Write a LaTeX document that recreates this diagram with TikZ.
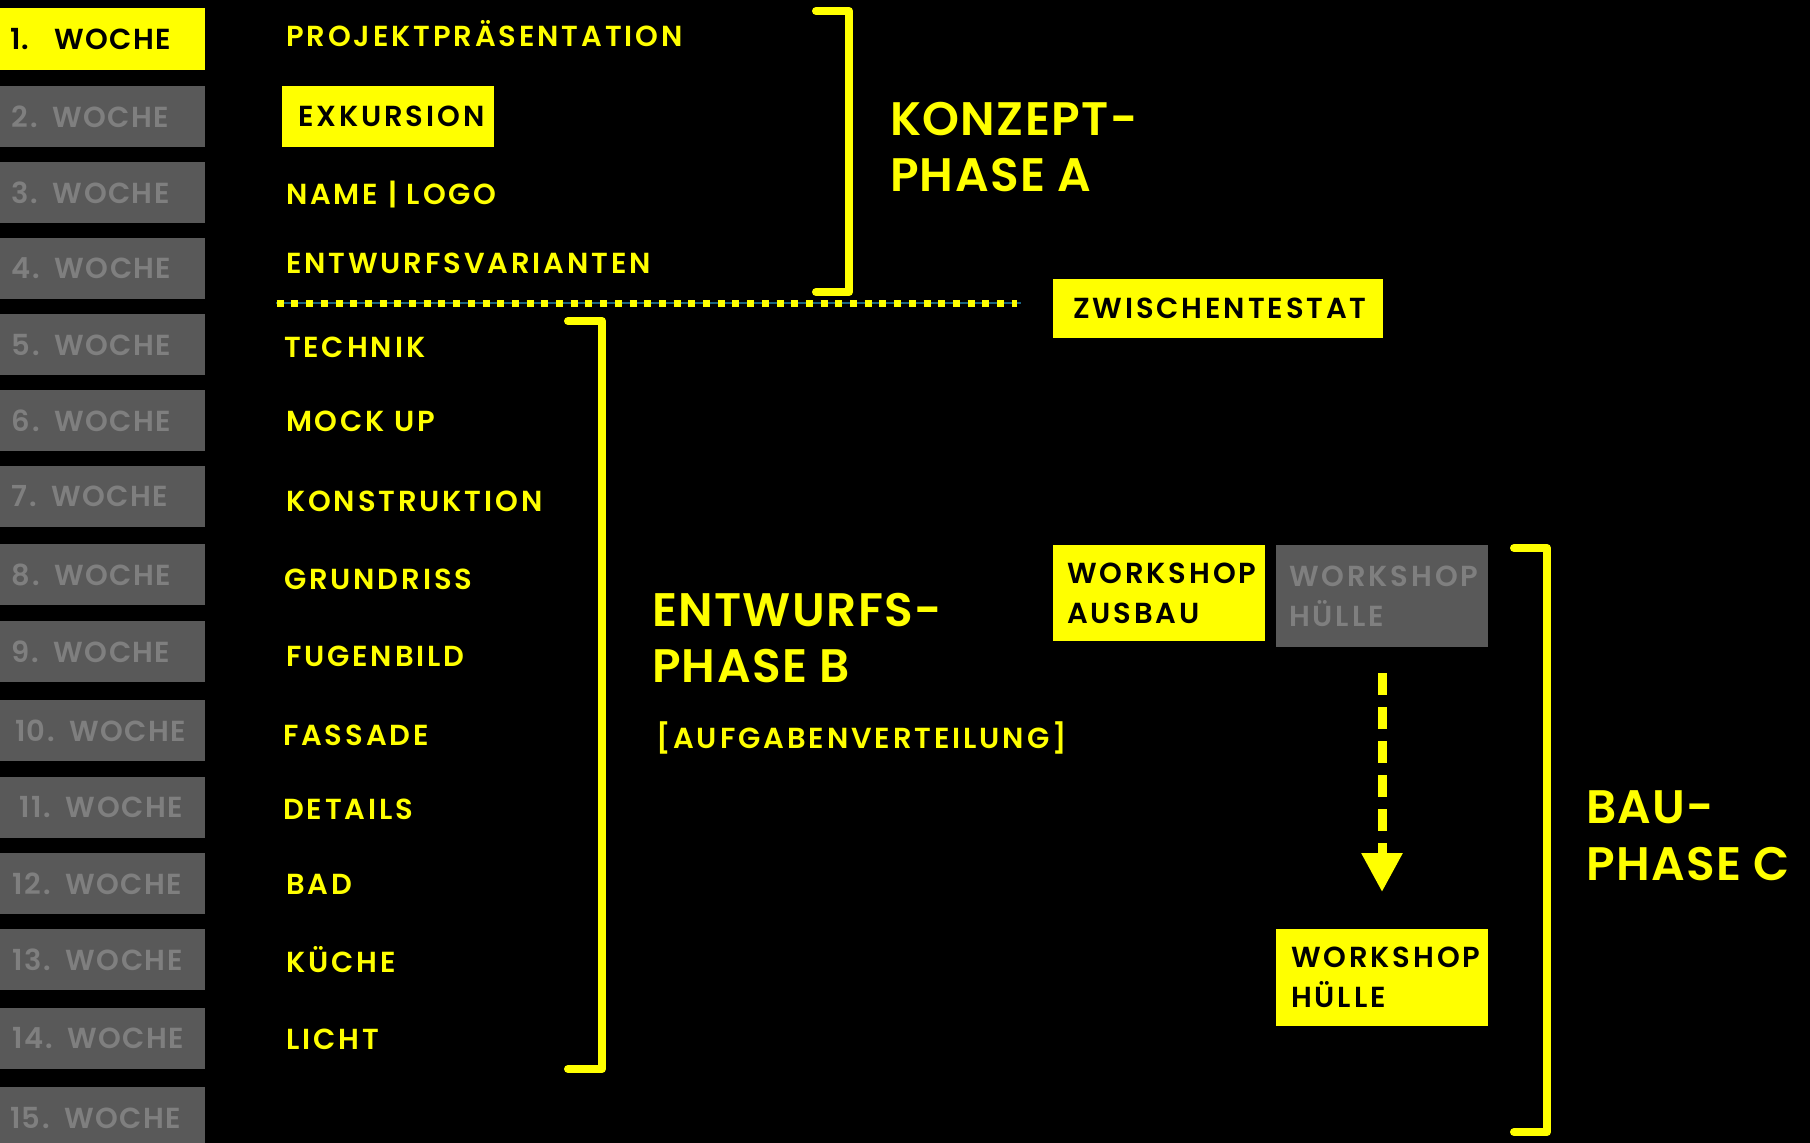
\documentclass[tikz,border=0pt]{standalone}
\usepackage{fontspec}
\IfFontExistsTF{Poppins SemiBold}{%
  \newfontfamily\ftxt{Poppins SemiBold}[LetterSpace=10]%
  \newfontfamily\fbig{Poppins SemiBold}[LetterSpace=3]%
  \newfontfamily\fwk{Poppins SemiBold}[LetterSpace=5]%
}{%
  \newfontfamily\ftxt{Poppins}[LetterSpace=10]%
  \newfontfamily\fbig{Poppins}[LetterSpace=3]%
  \newfontfamily\fwk{Poppins}[LetterSpace=5]%
}
\usetikzlibrary{arrows.meta}
\definecolor{ylw}{HTML}{FFFF00}
\definecolor{wkgray}{HTML}{595959}
\definecolor{wktext}{HTML}{7F7F7F}
\definecolor{sepline}{HTML}{1A6482}
\begin{document}
\begin{tikzpicture}[x=1pt,y=-1pt,
  every node/.style={inner sep=0pt, outer sep=0pt},
  txt/.style={anchor=base west, text=ylw, font=\ftxt\fontsize{29}{34}\selectfont},
  big/.style={anchor=base west, text=ylw, font=\fbig\fontsize{47}{56}\selectfont},
  week/.style={anchor=north west, fill=wkgray, text=wktext, minimum height=61pt,
    text width=205pt, align=left, font=\fwk\fontsize{29}{34}\selectfont},
  weekon/.style={week, fill=ylw, text=black, minimum height=62pt},
  ybox/.style={anchor=north west, fill=ylw, text=black, align=left,
    font=\ftxt\fontsize{29}{40}\selectfont},
  gbox/.style={ybox, fill=wkgray, text=wktext},
  brk/.style={draw=ylw, line width=8pt, line cap=round, line join=round},
  flow/.style={draw=ylw, line width=9pt, dash pattern=on 22pt off 12pt,
    -{Triangle[length=39pt,width=39pt]}}
]
\fill[black] (0,0) rectangle (1810,1143);
\useasboundingbox (0,0) rectangle (1810,1143);
\clip (0,0) rectangle (1810,1143);

% weeks
\node[weekon] (w1) at (0,8) {\hspace*{10pt}1.\hspace{25pt}WOCHE};
\node[week] (w2) at (0,86) {\hspace*{12pt}2. WOCHE};
\node[week] (w3) at (0,162) {\hspace*{12pt}3. WOCHE};
\node[week] (w4) at (0,238) {\hspace*{12pt}4. WOCHE};
\node[week] (w5) at (0,314) {\hspace*{12pt}5. WOCHE};
\node[week] (w6) at (0,390) {\hspace*{12pt}6. WOCHE};
\node[week] (w7) at (0,466) {\hspace*{12pt}7. WOCHE};
\node[week] (w8) at (0,544) {\hspace*{12pt}8. WOCHE};
\node[week] (w9) at (0,621) {\hspace*{12pt}9. WOCHE};
\node[week] (w10) at (0,700) {\hspace*{15pt}10. WOCHE};
\node[week] (w11) at (0,777) {\hspace*{20pt}11. WOCHE};
\node[week] (w12) at (0,853) {\hspace*{13pt}12. WOCHE};
\node[week] (w13) at (0,929) {\hspace*{13pt}13. WOCHE};
\node[week] (w14) at (0,1008) {\hspace*{13pt}14. WOCHE};
\node[week] (w15) at (0,1087) {\hspace*{10pt}15. WOCHE};

% tasks
\node[txt] (t1) at (286,46) {PROJEKTPRÄSENTATION};
\node[ybox, minimum width=212pt, minimum height=61pt, text width=180pt, inner xsep=16pt] (t2) at (282,86) {EXKURSION};
\node[txt] (t3) at (286,204) {NAME | LOGO};
\node[txt] (t4) at (286,273) {ENTWURFSVARIANTEN};
\node[txt] (t5) at (284,357) {TECHNIK};
\node[txt] (t6) at (286,431) {MOCK UP};
\node[txt] (t7) at (286,511) {KONSTRUKTION};
\node[txt] (t8) at (284,589) {GRUNDRISS};
\node[txt] (t9) at (286,666) {FUGENBILD};
\node[txt] (t10) at (283,745) {FASSADE};
\node[txt] (t11) at (283,819) {DETAILS};
\node[txt] (t12) at (286,894) {BAD};
\node[txt] (t13) at (286,972) {KÜCHE};
\node[txt] (t14) at (286,1049) {LICHT};

% separator
\draw[sepline, line width=2pt] (276,303) -- (1021,303);
\draw[ylw, line width=7pt, dash pattern=on 7pt off 7.7pt] (276.7,303) -- (1017,303);
\node[ybox, minimum width=330pt, minimum height=59pt, text width=290pt, inner xsep=20pt] (zw) at (1053,279) {ZWISCHENTESTAT};

% brackets
\draw[brk] (816,11) -- (849,11) -- (849,292) -- (816,292);
\draw[brk] (568,321) -- (602,321) -- (602,1069) -- (568,1069);
\draw[brk] (1514,548) -- (1547,548) -- (1547,1132) -- (1514,1132);

% phase labels
\node[big] (pa1) at (890,135) {KONZEPT-};
\node[big] (pa2) at (890,191) {PHASE A};
\node[big] (pb1) at (652,626) {ENTWURFS-};
\node[big] (pb2) at (652,682) {PHASE B};
\node[txt] (pb3) at (656,748) {[AUFGABENVERTEILUNG]};
\node[big] (pc1) at (1586,823) {BAU-};
\node[big] (pc2) at (1586,880) {PHASE C};

% workshops
\node[ybox, minimum width=212pt, minimum height=96pt, text width=184pt, inner xsep=14pt] (wsa) at (1053,545) {WORKSHOP\\AUSBAU};
\node[gbox, minimum width=212pt, minimum height=102pt, text width=186pt, inner xsep=13pt] (wsg) at (1276,545) {WORKSHOP\\HÜLLE};
\node[ybox, minimum width=212pt, minimum height=97pt, text width=182pt, inner xsep=15pt] (wsh) at (1276,929) {WORKSHOP\\HÜLLE};
\draw[flow] ([yshift=-26pt]wsg.south) -- ([yshift=37pt]wsh.north);
\end{tikzpicture}
\end{document}
